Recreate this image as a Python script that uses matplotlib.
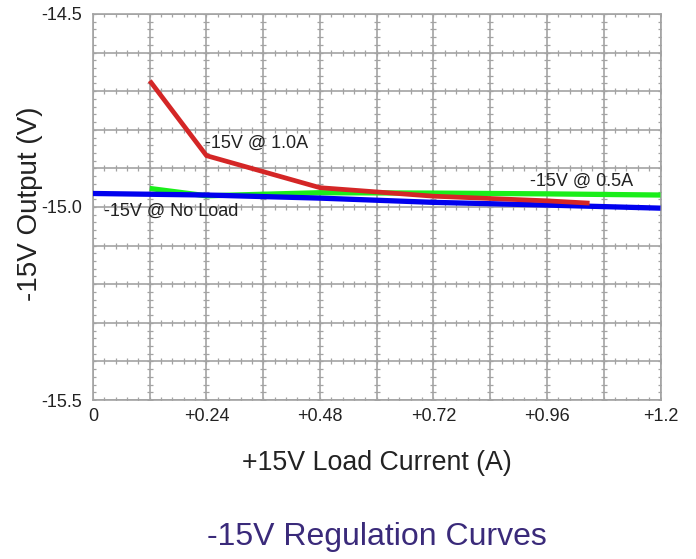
# -15V regulation curves: output voltage vs +15V load current
import numpy as np
import matplotlib.pyplot as plt

plt.rcParams['font.family'] = ['Liberation Sans', 'DejaVu Sans']

# -15V @ 1.0A
red_x = [0.12, 0.24, 0.48, 0.72, 0.96, 1.05]
red_y = [-14.673, -14.867, -14.950, -14.972, -14.984, -14.990]
# -15V @ 0.5A
green_x = [0.12, 0.24, 0.48, 0.72, 0.96, 1.2]
green_y = [-14.952, -14.971, -14.963, -14.964, -14.966, -14.969]
# -15V @ No Load
blue_x = [0.0, 0.24, 0.48, 0.72, 0.96, 1.2]
blue_y = [-14.965, -14.969, -14.977, -14.988, -14.995, -15.003]

x_ticks = [0, 0.24, 0.48, 0.72, 0.96, 1.2]
x_labels = ['0', '+0.24', '+0.48', '+0.72', '+0.96', '+1.2']
y_ticks = [-15.5, -15.0, -14.5]
y_labels = ['-15.5', '-15.0', '-14.5']

grid_col = '#a3a3a3'

fig = plt.figure(figsize=(6.96, 5.59), dpi=100)
ax = fig.add_axes([0.1336, 0.2844, 0.8154, 0.6906])
ax.set_xlim(0, 1.2)
ax.set_ylim(-15.5, -14.5)

# grid, one cell per 0.12 A and 0.1 V
gx = np.linspace(0, 1.2, 11)
gy = np.linspace(-15.5, -14.5, 11)
for v in gx:
    ax.axvline(v, color=grid_col, lw=1.2, zorder=1)
for v in gy:
    ax.axhline(v, color=grid_col, lw=1.2, zorder=1)

# small subdivision marks along every grid line
fx = np.linspace(0, 1.2, 51)
fy = np.linspace(-15.5, -14.5, 51)
for v in gy:
    ax.plot(fx, np.full_like(fx, v), ls='none', marker='|', ms=4,
            mew=0.9, color=grid_col, zorder=1)
for v in gx:
    ax.plot(np.full_like(fy, v), fy, ls='none', marker='_', ms=4,
            mew=0.9, color=grid_col, zorder=1)

ax.plot(green_x, green_y, color='#1aee1a', lw=3.8, zorder=3,
        solid_capstyle='butt')
ax.plot(blue_x, blue_y, color='#0000ee', lw=3.8, zorder=4,
        solid_capstyle='butt')
ax.plot(red_x, red_y, color='#d42626', lw=3.4, zorder=5,
        solid_capstyle='butt')

ax.text(0.237, -14.836, '-15V @ 1.0A', fontsize=13, va='center', ha='left',
        color='#222222', zorder=6)
ax.text(0.923, -14.933, '-15V @ 0.5A', fontsize=13, va='center', ha='left',
        color='#222222', zorder=6)
ax.text(0.023, -15.012, '-15V @ No Load', fontsize=13, va='center',
        ha='left', color='#222222', zorder=6)

for s in ax.spines.values():
    s.set_color(grid_col)
    s.set_linewidth(1.2)

ax.set_xticks(x_ticks)
ax.set_xticklabels(x_labels)
ax.set_yticks(y_ticks)
ax.set_yticklabels(y_labels)
ax.tick_params(axis='both', length=0, labelsize=13, colors='#222222')
ax.tick_params(axis='x', pad=6)
ax.tick_params(axis='y', pad=8)

ax.set_xlabel('+15V Load Current (A)', fontsize=19.3, color='#222222')
ax.xaxis.set_label_coords(0.5, -0.13)
ax.set_ylabel('-15V Output (V)', fontsize=20, color='#222222')
ax.yaxis.set_label_coords(-0.088, 0.508)

fig.text(0.542, 0.039, '-15V Regulation Curves', fontsize=23,
         color='#3a2a7a', ha='center', va='center')

fig.savefig('out.png', dpi=100)
